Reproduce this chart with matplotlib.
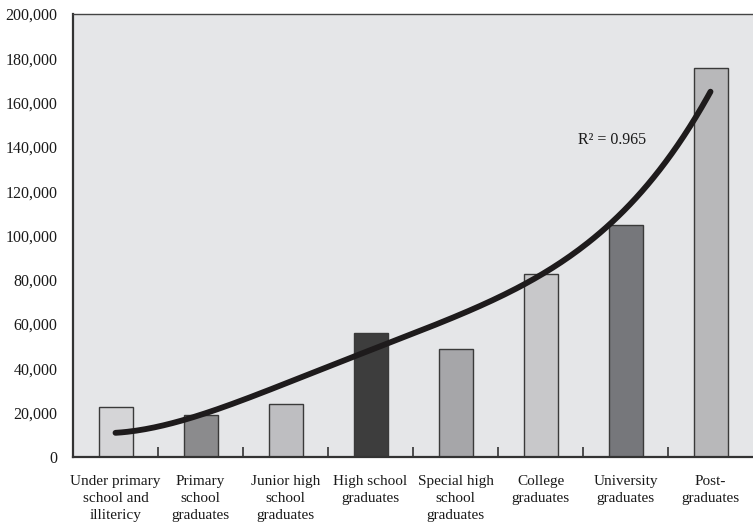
import numpy as np
import matplotlib
matplotlib.use("Agg")
import matplotlib.pyplot as plt
from matplotlib.ticker import FuncFormatter

# Income by education level (bars) with trend curve
categories = [
    "Under primary\nschool and\nillitericy",
    "Primary\nschool\ngraduates",
    "Junior high\nschool\ngraduates",
    "High school\ngraduates",
    "Special high\nschool\ngraduates",
    "College\ngraduates",
    "University\ngraduates",
    "Post-\ngraduates",
]
values = [22600, 19000, 24000, 56200, 48900, 82600, 104800, 175600]
bar_colors = ["#d5d5d7", "#8b8b8d", "#bebec1", "#3d3d3d",
              "#a6a6a9", "#c8c8ca", "#76777b", "#b8b8ba"]
# trend curve read at each category
trend = [10400, 20400, 33200, 45400, 65000, 84400, 109300, 165700]
r2_text = "R\u00b2 = 0.965"

plt.rcParams["font.family"] = ["Liberation Serif", "DejaVu Serif"]

fig = plt.figure(figsize=(7.53, 5.27), dpi=100)
ax = fig.add_axes([73 / 753, 70 / 527, 680 / 753, 443 / 527])
ax.set_facecolor("#e5e6e8")

x = np.arange(len(categories))
ax.bar(x, values, width=0.4, color=bar_colors, edgecolor="#3a3a3a",
       linewidth=1.0, zorder=2)

# smooth curve through the trend readings
coef = np.polyfit(x, trend, 4)
xs = np.linspace(0, len(categories) - 1, 200)
ax.plot(xs, np.polyval(coef, xs), color="#1e1b1c", lw=4.2,
        solid_capstyle="round", zorder=3)

ax.text(5.44, 143000, r2_text, fontsize=11.5, ha="left", va="center",
        color="#1a1a1a")

ax.set_xlim(-0.5, len(categories) - 0.5)
ax.set_ylim(0, 200000)
ax.set_yticks(np.arange(0, 200001, 20000))
ax.yaxis.set_major_formatter(FuncFormatter(lambda v, p: f"{int(v):,}"))
ax.tick_params(axis="y", length=0, pad=11, labelsize=11.5, labelcolor="#1a1a1a")

# category labels centred, boundary ticks pointing inward
ax.set_xticks(x)
ax.set_xticklabels(categories, fontsize=11, linespacing=1.42, color="#1a1a1a")
ax.tick_params(axis="x", which="major", length=0, pad=13)
ax.set_xticks(np.arange(0.5, len(categories) - 0.5), minor=True)
ax.tick_params(axis="x", which="minor", direction="in", length=7,
               width=1.2, color="#333333")

for side in ["left", "bottom"]:
    ax.spines[side].set_linewidth(1.6)
    ax.spines[side].set_color("#333333")
ax.spines["top"].set_linewidth(1.0)
ax.spines["top"].set_color("#444444")
ax.spines["right"].set_visible(False)

fig.savefig("out.png", dpi=100)
